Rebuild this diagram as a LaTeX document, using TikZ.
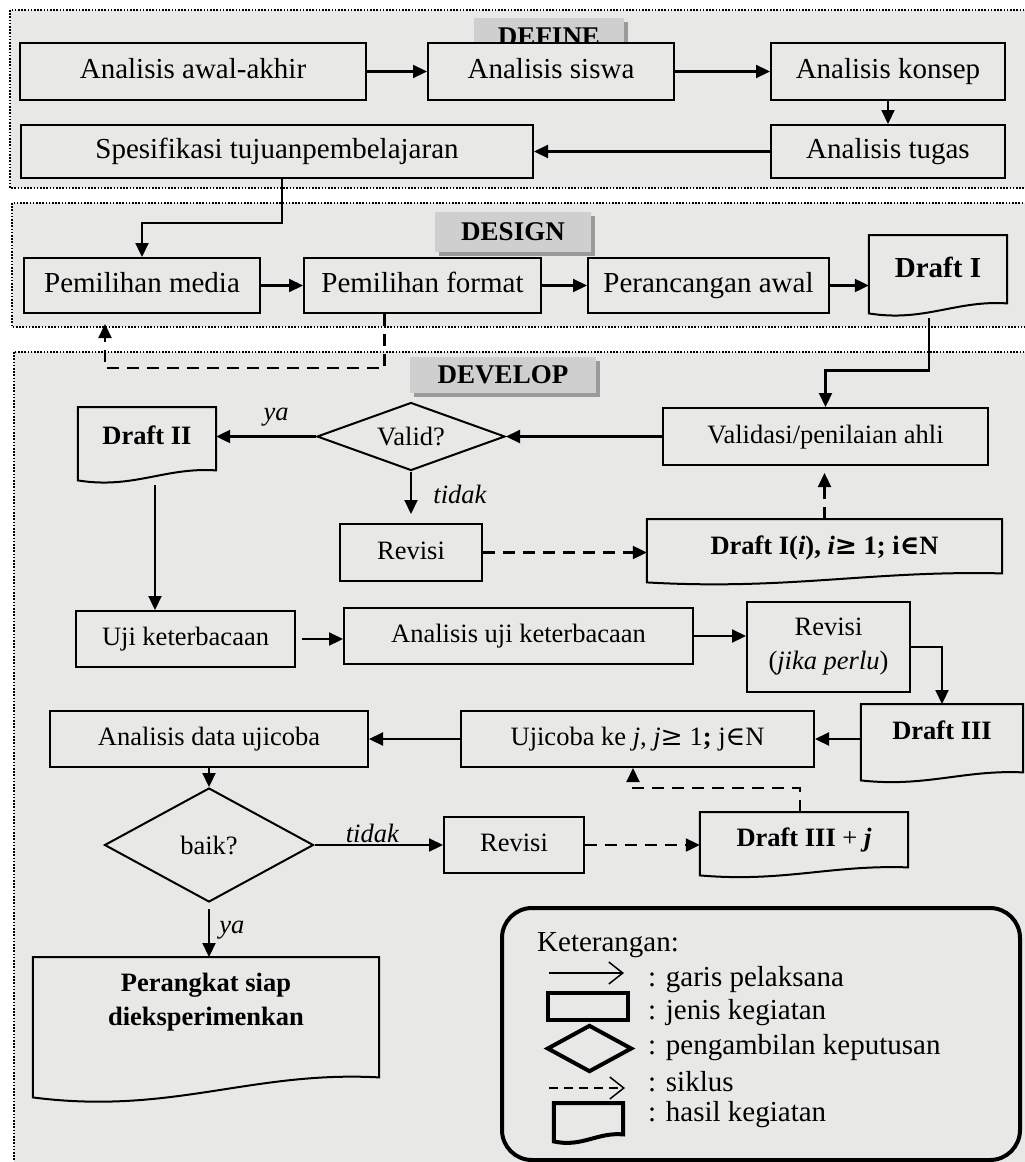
\documentclass[tikz,border=0pt]{standalone}
\usepackage{fontspec}
\setmainfont{Liberation Serif}
\newfontfamily\symfont{DejaVu Serif}
\usetikzlibrary{arrows.meta, shapes.geometric, calc, shadows}

\definecolor{panelgray}{HTML}{E8E8E6}
\definecolor{tabgray}{HTML}{CFCFCF}
\definecolor{shadegray}{HTML}{9A9A9A}

\newcommand{\bigfont}{\fontsize{29}{34}\selectfont}
\newcommand{\smallfont}{\fontsize{26.5}{34}\selectfont}

% wavy foot of a document node: [line], name, drop below south, rise on the right
\newcommand{\docoutline}[4][line width=2pt]{%
  \draw[#1] (#2.north west) -- (#2.north east) -- ([yshift=-#3pt+#4pt]#2.south east)
    .. controls ($(#2.south west)!0.63!(#2.south east)+(0pt,-#3pt+1.35*#4pt)$)
    and ($(#2.south west)!0.4!(#2.south east)+(0pt,-#3pt-0.9*#4pt)$)
    .. ([yshift=-#3pt]#2.south west) -- cycle;}

\begin{document}
\begin{tikzpicture}[x=1pt, y=-1pt, font=\smallfont,
    panel/.style={fill=panelgray, draw, line width=2pt, dash pattern=on 1.6pt off 1.6pt},
    phasetab/.style 2 args={fill=tabgray, minimum width=#1pt, minimum height=#2pt, inner sep=0pt,
      font=\fontsize{27}{32}\selectfont\bfseries,
      drop shadow={shadow xshift=4pt, shadow yshift=-4pt, fill=shadegray, opacity=1}},
    stage/.style 2 args={draw, line width=2pt, fill=panelgray, minimum width=#1pt, minimum height=#2pt,
      inner sep=0pt, align=center, text height=19pt, text depth=6pt},
    decision/.style 2 args={diamond, draw, line width=2pt, minimum width=#1pt, minimum height=#2pt,
      aspect=2, inner sep=0pt},
    doc/.style 2 args={minimum width=#1pt, minimum height=#2pt, anchor=north, inner sep=0pt,
      align=center, font=\smallfont\bfseries},
    arr/.style={line width=2.2pt, -{Triangle[length=14pt, width=13pt]}},
    dasharr/.style={arr, dash pattern=on 12pt off 8pt},
    legarr/.style={line width=1.5pt, -{Straight Barb[length=14pt, width=22pt, line width=1.5pt]}},
    legtext/.style={anchor=west, inner sep=0pt, font=\bigfont}]

    \useasboundingbox[fill=white] (0,0) rectangle (1025,1162);

    % Define phase
    \draw[panel] (10,10) rectangle (1040,188);
    \node[phasetab={150}{38}] (deftab) at (549,37) {DEFINE};
    \node[stage={346}{57}, font=\bigfont] (awal) at (193,71.5) {Analisis awal-akhir};
    \node[stage={246}{57}, font=\bigfont] (siswa) at (551,71.5) {Analisis siswa};
    \node[stage={234}{57}, font=\bigfont] (konsep) at (888,71.5) {Analisis konsep};
    \node[stage={234}{53}, font=\bigfont] (tugas) at (888,151.5) {Analisis tugas};
    \node[stage={512}{53}, font=\bigfont] (spes) at (277,151.5) {Spesifikasi tujuanpembelajaran};
    \draw[arr] (awal) -- (siswa);
    \draw[arr] (siswa) -- (konsep);
    \draw[arr] (konsep) -- (tugas);
    \draw[arr] (tugas) -- (spes);

    % Design phase
    \draw[panel] (12,203) rectangle (1040,327);
    \node[phasetab={156}{40}] (destab) at (513,232) {DESIGN};
    \node[stage={236}{55}, font=\bigfont] (media) at (142,285.5) {Pemilihan media};
    \node[stage={237}{55}, font=\bigfont] (format) at (422.5,285.5) {Pemilihan format};
    \node[stage={241}{55}, font=\bigfont] (rancang) at (708.5,285.5) {Perancangan awal};
    \node[doc={138}{64}, font=\bigfont\bfseries] (draftI) at (938,235) {Draft I};
    \docoutline{draftI}{14}{10}
    \draw[arr] ([xshift=5pt]spes.south) -- ++(0,44) -| (media.north);
    \draw[arr] (media) -- (format);
    \draw[arr] (format) -- (rancang);
    \draw[arr] (rancang.east) -- (rancang.east -| draftI.west);

    % Develop phase
    \draw[panel] (14,352) rectangle (1040,1180);
    \draw[dasharr] ([xshift=-38pt]format.south) -- ++(0,54) -| ([xshift=-37pt,yshift=-10pt]media.south);
    \node[phasetab={186}{36}] (devtab) at (503,375) {DEVELOP};
    \node[stage={325}{57}] (validasi) at (825.5,436.5) {Validasi/penilaian ahli};
    \node[decision={188}{68}] (valid) at (411,436.5) {Valid?};
    \node[doc={138}{56}] (draftII) at (147,407) {Draft II};
    \docoutline{draftII}{17}{10}
    \node[stage={142}{57}] (revisiA) at (411,552.5) {Revisi};
    \node[doc={355}{58}] (draftIi) at (824.5,519) {Draft I(\textit{i}), \textit{i}{\symfont ≥} 1; i{\symfont ∈}N};
    \docoutline{draftIi}{5}{9}
    \node[stage={219}{56}] (uji) at (185.5,639) {Uji keterbacaan};
    \node[stage={349}{56}] (analuji) at (518.5,636) {Analisis uji keterbacaan};
    \node[stage={163}{90}, text height=, text depth=] (revisiB) at (828.5,647) {Revisi\\(\textit{jika perlu})};
    \node[doc={162}{52}] (draftIII) at (942,704) {Draft III};
    \docoutline{draftIII}{24}{8}
    \node[stage={353}{56}] (ujicoba) at (637.5,739) {Ujicoba ke \textit{j}, \textit{j}{\symfont ≥} 1\textbf{;} j{\symfont ∈}N};
    \node[stage={318}{56}] (analdata) at (209,739) {Analisis data ujicoba};
    \node[decision={209}{114}] (baik) at (209,845) {baik?};
    \node[stage={140}{56}] (revisiC) at (514,845) {Revisi};
    \node[doc={208}{56}] (draftIIIj) at (804,812) {Draft III \textmd{+} \textit{j}};
    \docoutline{draftIIIj}{7}{8}
    \node[doc={346}{90}] (siap) at (206,957) {Perangkat siap\\dieksperimenkan};
    \docoutline{siap}{50}{20}

    \draw[arr] ([xshift=-9pt,yshift=-19pt]draftI.south) -- ++(0,52) -| (validasi.north);
    \draw[arr] (validasi) -- (valid);
    \draw[arr] (valid.west) -- (valid.west -| draftII.east)
        node[pos=0.4, above, yshift=6pt, font=\smallfont\itshape] (yaA) {ya};
    \draw[arr, shorten >=9pt] (valid.south) -- (revisiA.north)
        node[pos=0.45, right, xshift=18pt, font=\smallfont\itshape] (tidakA) {tidak};
    \draw[dasharr] (revisiA.east) -- (revisiA.east -| draftIi.west);
    \draw[dasharr, shorten >=7pt] (draftIi.north) -- (draftIi.north |- validasi.south);
    \coordinate (draftIIfoot) at ([xshift=8pt,yshift=-22pt]draftII.south);
    \draw[arr] (draftIIfoot) -- (draftIIfoot |- uji.north);
    \draw[arr, shorten <=6pt] (uji.east) -- (uji.east -| analuji.west);
    \draw[arr] (analuji.east) -- (analuji.east -| revisiB.west);
    \draw[arr] (revisiB.east) -| (draftIII.north);
    \draw[arr] (ujicoba.east -| draftIII.west) -- (ujicoba.east);
    \draw[arr] (ujicoba) -- (analdata);
    \draw[arr] (analdata) -- (baik);
    \draw[arr] (baik) -- (revisiC)
        node[pos=0.45, above, inner sep=1pt, font=\smallfont\itshape] (tidakB) {tidak};
    \draw[dasharr] (revisiC.east) -- (revisiC.east -| draftIIIj.west);
    \draw[dasharr] ([xshift=-4pt]draftIIIj.north) -- ++(0,-24) -| ([xshift=-4.5pt]ujicoba.south);
    \draw[arr, shorten <=6pt] (baik.south) -- (baik.south |- siap.north)
        node[pos=0.5, right, xshift=6pt, font=\smallfont\itshape] (yaB) {ya};

    % Legend
    \node[draw, line width=4pt, rounded corners=30pt, minimum width=518pt, minimum height=252pt,
        inner sep=0pt] (legend) at (761,1034) {};
    \node[legtext] (ket) at (537,945) {Keterangan:};
    \coordinate (legA1) at (549,973);
    \coordinate (legA2) at (624,973);
    \draw[legarr] (legA1) -- (legA2);
    \node[legtext] (legtxtA) at (648,980) {: garis pelaksana};
    \node[draw, line width=4pt, minimum width=80pt, minimum height=27pt, inner sep=0pt] (legbox) at (588,1006.5) {};
    \node[legtext] (legtxtB) at (648,1013) {: jenis kegiatan};
    \node[diamond, draw, line width=4pt, minimum width=85pt, minimum height=47pt, inner sep=0pt] (legdia) at (589.5,1048.5) {};
    \node[legtext] (legtxtC) at (648,1048) {: pengambilan keputusan};
    \coordinate (legB1) at (549,1088);
    \coordinate (legB2) at (625,1088);
    \draw[legarr, dash pattern=on 9pt off 6pt] (legB1) -- (legB2);
    \node[legtext] (legtxtD) at (648,1082) {: siklus};
    \node[minimum width=69pt, minimum height=30pt, anchor=north, inner sep=0pt] (legdoc) at (588.5,1103) {};
    \docoutline[line width=4pt]{legdoc}{8}{7}
    \node[legtext] (legtxtE) at (648,1115) {: hasil kegiatan};
\end{tikzpicture}
\end{document}
